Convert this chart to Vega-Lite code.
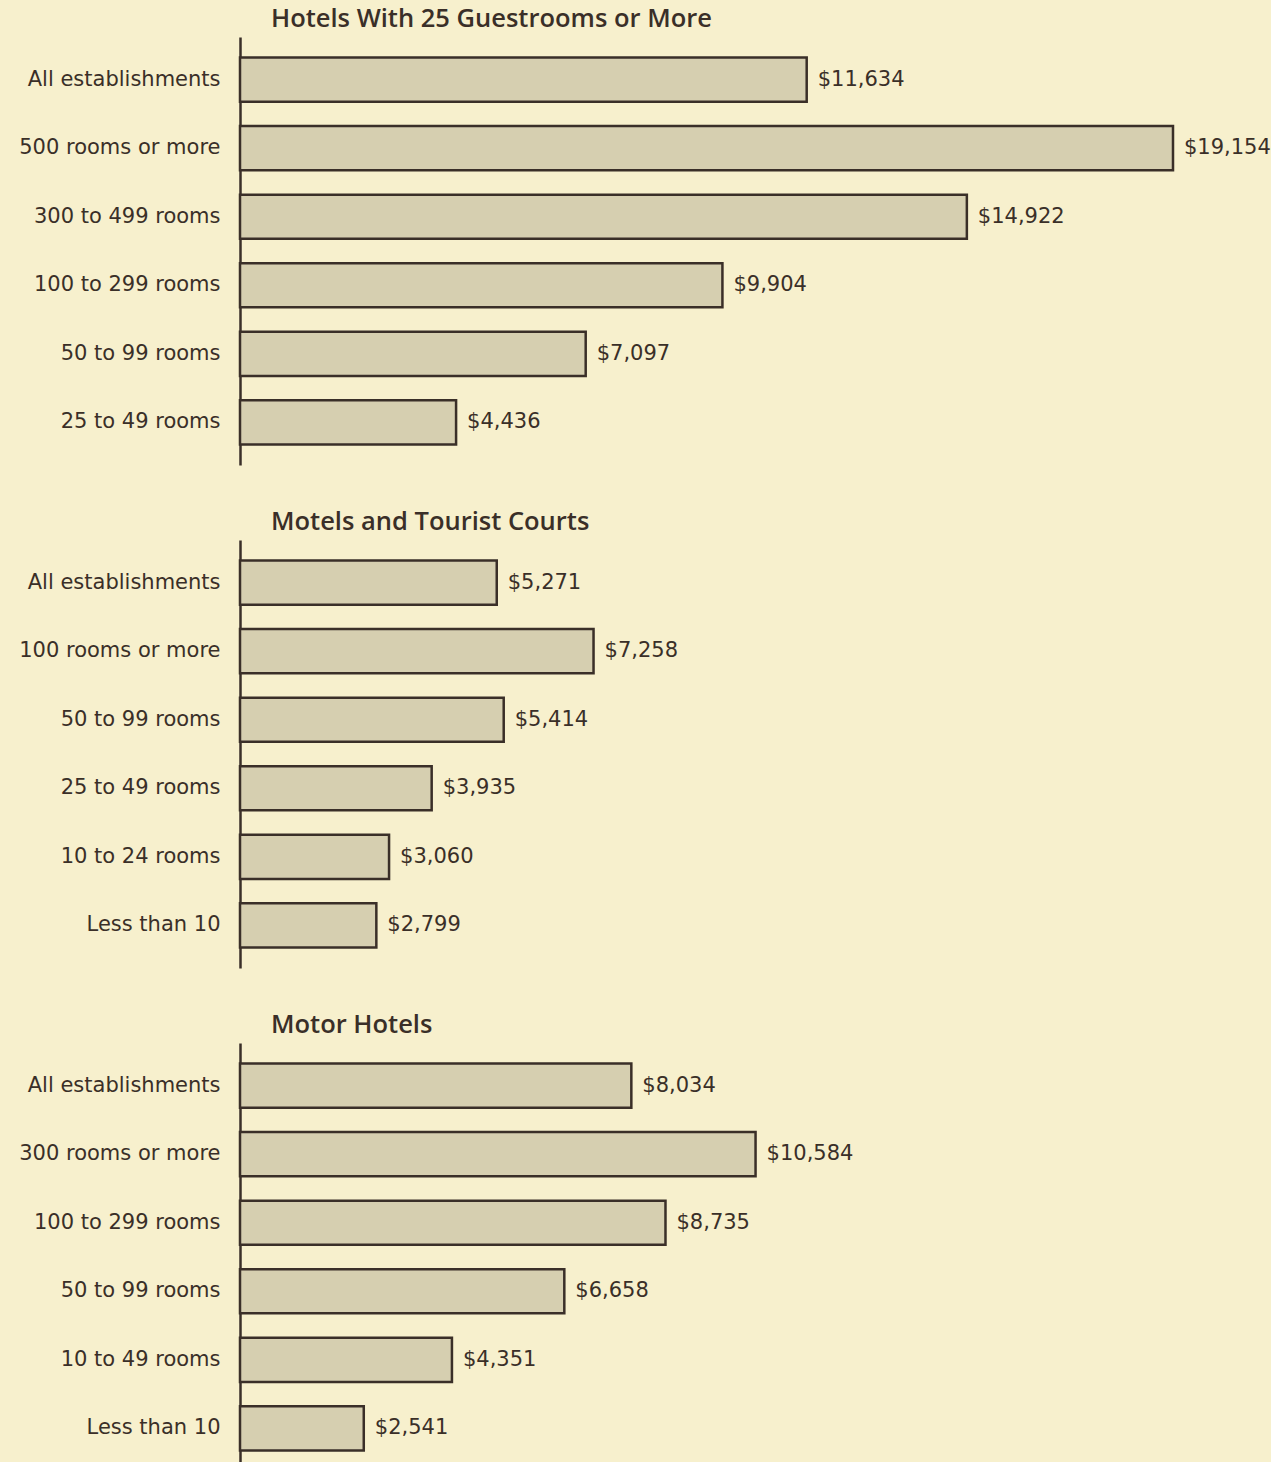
{
  "$schema": "https://vega.github.io/schema/vega-lite/v6.json",
  "background": "#f7f0cd",
  "padding": {"left": 18, "top": 6, "right": 0, "bottom": 0},
  "spacing": 44,
  "data": {"values": [
    {"panel": "Hotels With 25 Guestrooms or More", "category": "All establishments", "value": 11634, "label": "$11,634"},
    {"panel": "Hotels With 25 Guestrooms or More", "category": "500 rooms or more", "value": 19154, "label": "$19,154"},
    {"panel": "Hotels With 25 Guestrooms or More", "category": "300 to 499 rooms", "value": 14922, "label": "$14,922"},
    {"panel": "Hotels With 25 Guestrooms or More", "category": "100 to 299 rooms", "value": 9904, "label": "$9,904"},
    {"panel": "Hotels With 25 Guestrooms or More", "category": "50 to 99 rooms", "value": 7097, "label": "$7,097"},
    {"panel": "Hotels With 25 Guestrooms or More", "category": "25 to 49 rooms", "value": 4436, "label": "$4,436"},
    {"panel": "Motels and Tourist Courts", "category": "All establishments", "value": 5271, "label": "$5,271"},
    {"panel": "Motels and Tourist Courts", "category": "100 rooms or more", "value": 7258, "label": "$7,258"},
    {"panel": "Motels and Tourist Courts", "category": "50 to 99 rooms", "value": 5414, "label": "$5,414"},
    {"panel": "Motels and Tourist Courts", "category": "25 to 49 rooms", "value": 3935, "label": "$3,935"},
    {"panel": "Motels and Tourist Courts", "category": "10 to 24 rooms", "value": 3060, "label": "$3,060"},
    {"panel": "Motels and Tourist Courts", "category": "Less than 10", "value": 2799, "label": "$2,799"},
    {"panel": "Motor Hotels", "category": "All establishments", "value": 8034, "label": "$8,034"},
    {"panel": "Motor Hotels", "category": "300 rooms or more", "value": 10584, "label": "$10,584"},
    {"panel": "Motor Hotels", "category": "100 to 299 rooms", "value": 8735, "label": "$8,735"},
    {"panel": "Motor Hotels", "category": "50 to 99 rooms", "value": 6658, "label": "$6,658"},
    {"panel": "Motor Hotels", "category": "10 to 49 rooms", "value": 4351, "label": "$4,351"},
    {"panel": "Motor Hotels", "category": "Less than 10", "value": 2541, "label": "$2,541"}
  ]},
  "config": {
    "view": {"stroke": null},
    "font": "DejaVu Sans",
    "title": {"anchor": "start", "frame": "group", "dx": 31, "fontSize": 25.5, "fontWeight": 600, "color": "#3a2f28", "offset": 5, "font": "Open Sans"},
    "axisY": {"title": null, "ticks": false, "domainColor": "#3a2f28", "domainWidth": 2.5, "labelFontSize": 21, "labelColor": "#3a2f28", "labelPadding": 20, "labelFont": "DejaVu Sans", "labelLimit": 400},
    "scale": {"bandPaddingInner": 0.355, "bandPaddingOuter": 0.3}
  },
  "vconcat": [
    {
      "title": "Hotels With 25 Guestrooms or More",
      "width": 933, "height": 428,
      "transform": [{"filter": "datum.panel === 'Hotels With 25 Guestrooms or More'"}],
      "encoding": {
        "y": {"field": "category", "type": "nominal", "sort": null, "axis": {"title": null}},
        "x": {"field": "value", "type": "quantitative", "scale": {"domain": [0, 19154], "nice": false}, "axis": null}
      },
      "layer": [
        {"mark": {"type": "bar", "fill": "#d6cfb0", "stroke": "#3a2f28", "strokeWidth": 2.5}},
        {"mark": {"type": "text", "align": "left", "dx": 11, "fontSize": 21, "font": "DejaVu Sans", "color": "#3a2f28"}, "encoding": {"text": {"field": "label"}}}
      ]
    },
    {
      "title": "Motels and Tourist Courts",
      "width": 933, "height": 428,
      "transform": [{"filter": "datum.panel === 'Motels and Tourist Courts'"}],
      "encoding": {
        "y": {"field": "category", "type": "nominal", "sort": null, "axis": {"title": null}},
        "x": {"field": "value", "type": "quantitative", "scale": {"domain": [0, 19154], "nice": false}, "axis": null}
      },
      "layer": [
        {"mark": {"type": "bar", "fill": "#d6cfb0", "stroke": "#3a2f28", "strokeWidth": 2.5}},
        {"mark": {"type": "text", "align": "left", "dx": 11, "fontSize": 21, "font": "DejaVu Sans", "color": "#3a2f28"}, "encoding": {"text": {"field": "label"}}}
      ]
    },
    {
      "title": "Motor Hotels",
      "width": 933, "height": 428,
      "transform": [{"filter": "datum.panel === 'Motor Hotels'"}],
      "encoding": {
        "y": {"field": "category", "type": "nominal", "sort": null, "axis": {"title": null}},
        "x": {"field": "value", "type": "quantitative", "scale": {"domain": [0, 19154], "nice": false}, "axis": null}
      },
      "layer": [
        {"mark": {"type": "bar", "fill": "#d6cfb0", "stroke": "#3a2f28", "strokeWidth": 2.5}},
        {"mark": {"type": "text", "align": "left", "dx": 11, "fontSize": 21, "font": "DejaVu Sans", "color": "#3a2f28"}, "encoding": {"text": {"field": "label"}}}
      ]
    }
  ]
}
